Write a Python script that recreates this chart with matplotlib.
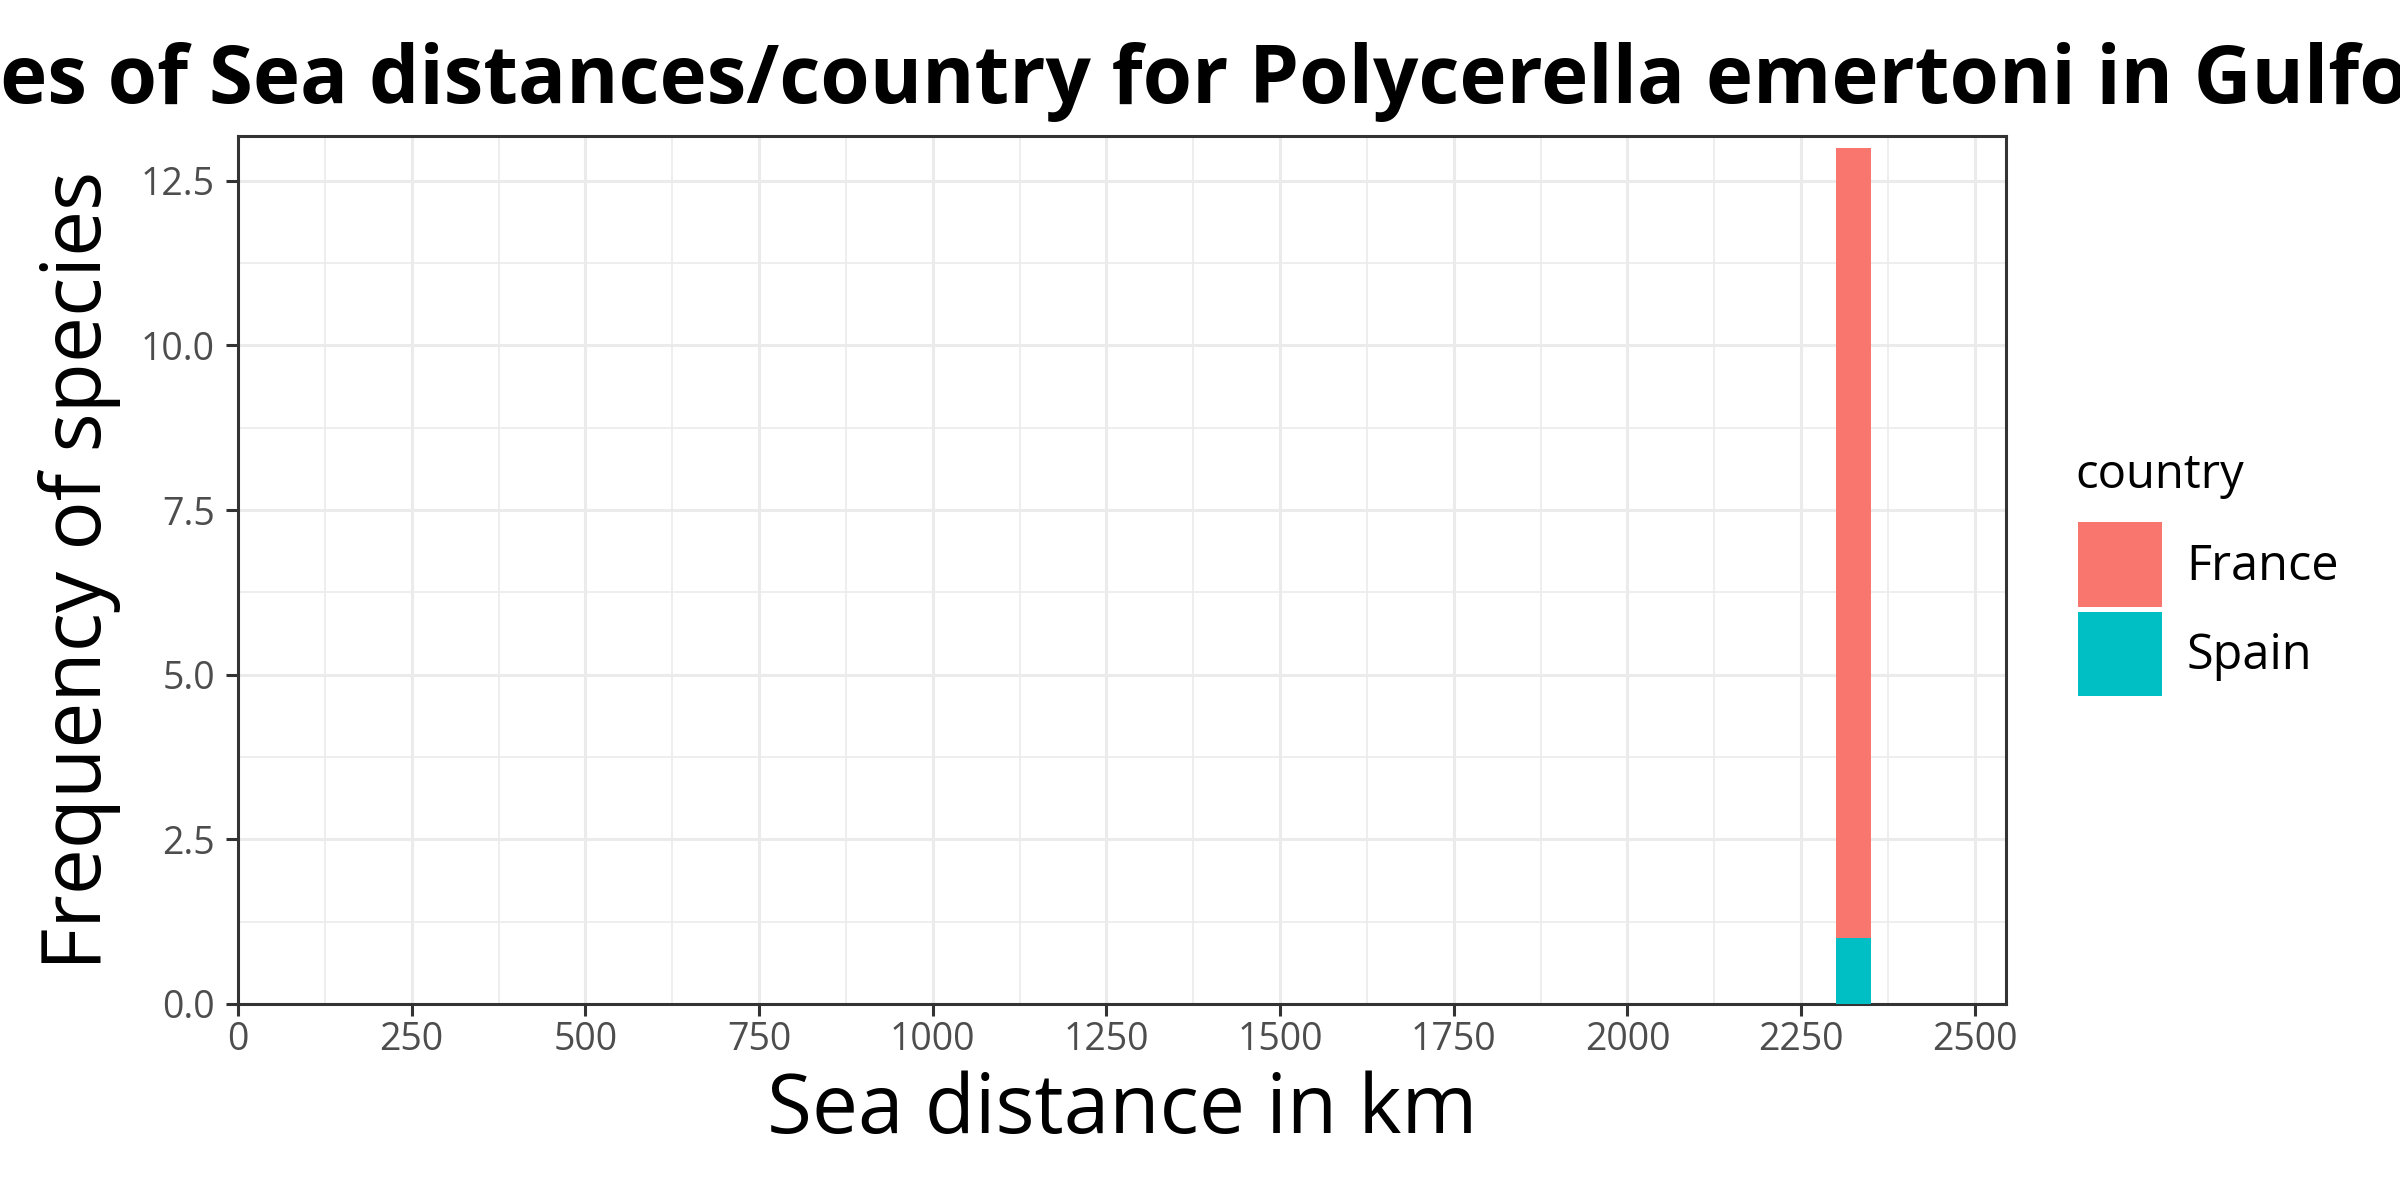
import matplotlib
matplotlib.use('Agg')
import matplotlib.pyplot as plt
import numpy as np
from matplotlib.patches import Patch

plt.rcParams['font.family'] = ['Open Sans', 'DejaVu Sans']

# data (stacked histogram, binwidth 50 km)
countries = ['France', 'Spain']
colors = ['#F8766D', '#00BFC4']
bin_left = [2300]
bin_width = 50
france_counts = [12]
spain_counts = [1]

x_ticks = [0, 250, 500, 750, 1000, 1250, 1500, 1750, 2000, 2250, 2500]
y_ticks = [0.0, 2.5, 5.0, 7.5, 10.0, 12.5]

title = 'Frequencies of Sea distances/country for Polycerella emertoni in Gulfo'
hidden_prefix = 'Frequenci'
visible_part = 'es of Sea distances/country for Polycerella emertoni in Gulfo'

fig = plt.figure(figsize=(12, 6), dpi=200)
ax = fig.add_axes([238/2400, 1 - 1004/1200, (2006-238)/2400, (1004-136)/1200])

# spain at the bottom, france stacked on top (ggplot order)
ax.bar(bin_left, spain_counts, width=bin_width, align='edge', color=colors[1], linewidth=0, zorder=3)
ax.bar(bin_left, france_counts, width=bin_width, align='edge', bottom=spain_counts,
       color=colors[0], linewidth=0, zorder=3)

ax.set_xlim(0, 2545)
ax.set_ylim(0, 13.18)
ax.set_xticks(x_ticks)
ax.set_xticklabels([str(t) for t in x_ticks])
ax.set_yticks(y_ticks)
ax.set_yticklabels(['%.1f' % t for t in y_ticks])
ax.set_xticks(np.arange(125, 2545, 250), minor=True)
ax.set_yticks(np.arange(1.25, 13.18, 2.5), minor=True)

ax.grid(which='major', color='#EBEBEB', linewidth=1.1, zorder=0)
ax.grid(which='minor', color='#EBEBEB', linewidth=0.6, zorder=0)
ax.set_axisbelow(True)
for s in ax.spines.values():
    s.set_color('#333333')
    s.set_linewidth(1.1)
ax.tick_params(which='major', length=4.3, width=1.1, color='#333333',
               labelcolor='#4D4D4D', labelsize=13.5)
ax.tick_params(axis='x', pad=2)
ax.tick_params(axis='y', pad=4)
ax.tick_params(which='minor', length=0)

ax.set_xlabel('Sea distance in km', fontsize=29.5, labelpad=4)
ax.set_ylabel('Frequency of species', fontsize=29.5, labelpad=7)

# legend: keys + labels, title placed as its own text (ggplot leaves a gap under it)
handles = [Patch(facecolor=c, edgecolor='none') for c in colors]
leg = fig.legend(handles, countries, loc='upper left',
                 bbox_to_anchor=(2054/2400, 1 - 498/1200), frameon=False,
                 fontsize=17.5, handlelength=1.72, handleheight=2.3,
                 labelspacing=0.1, handletextpad=0.5, borderpad=0)
fig.text(2075/2400, 1 - 475/1200, 'country', fontsize=17, va='center', ha='left')

# title is wider than the figure: size it so the visible part spans the width,
# and shift it so the clipped prefix falls off the left edge
fig.canvas.draw()
r = fig.canvas.get_renderer()
probe = fig.text(0, 0, visible_part, fontsize=35, fontweight='bold')
wv = probe.get_window_extent(r).width
probe.remove()
tsize = 35 * 2410 / wv
pre = fig.text(0, 0, hidden_prefix, fontsize=tsize, fontweight='bold')
w = pre.get_window_extent(r).width
pre.remove()
fig.text(-w / 2400, 1 - 103/1200, title, fontsize=tsize, fontweight='bold', ha='left', va='baseline')

fig.savefig('out.png', dpi=200)
